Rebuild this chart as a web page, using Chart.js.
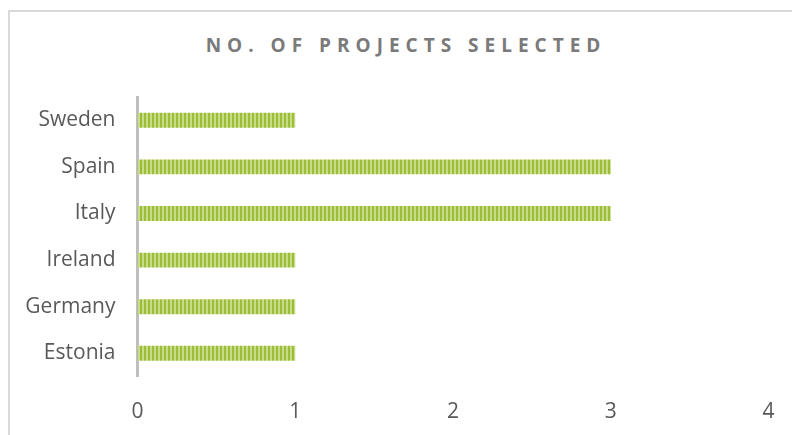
<!DOCTYPE html>
<html>
<head>
<meta charset="utf-8">
<script src="https://cdn.jsdelivr.net/npm/chart.js@4"></script>
<style>
  body { margin: 0; background: #fff; }
  #wrap { position: relative; width: 792px; height: 435px; overflow: hidden; }
  #frame { position: absolute; left: 8px; top: 10px; width: 820px; height: 460px;
           border: 2px solid #d9d9d9; box-sizing: border-box; }
  #title { position: absolute; left: 0; width: 812px; top: 32px; text-align: center;
           font: bold 19px "Open Sans", sans-serif; letter-spacing: 6px; color: #7a7a7a; }
  #chart { position: absolute; left: 0; top: 0; }
</style>
</head>
<body>
<div id="wrap">
  <div id="frame"></div>
  <div id="title">NO. OF PROJECTS SELECTED</div>
  <canvas id="chart" width="792" height="435"></canvas>
</div>
<script>
const countries = ['Sweden', 'Spain', 'Italy', 'Ireland', 'Germany', 'Estonia']
const projects = [1, 3, 3, 1, 1, 1]
const xTickLabels = ['0', '1', '2', '3', '4']

// striped fill like the office chart pattern
function stripes() {
    const c = document.createElement('canvas')
    c.width = 4
    c.height = 1
    const g = c.getContext('2d')
    g.fillStyle = '#9dbd37'
    g.fillRect(0, 0, 4, 1)
    g.fillStyle = '#c6dc8a'
    g.fillRect(2, 0, 2, 1)
    return g.createPattern(c, 'repeat')
}

const ctx = document.getElementById('chart')
new Chart(ctx, {
    type: 'bar',
    data: {
        labels: countries,
        datasets: [{
            label: 'No. of projects selected',
            data: projects,
            backgroundColor: stripes(),
            borderWidth: 0,
            barPercentage: 0.32,
            categoryPercentage: 1
        }]
    },
    options: {
        indexAxis: 'y',
        responsive: false,
        animation: false,
        layout: { padding: { top: 97, right: 23.4, left: 0, bottom: 0 } },
        plugins: { legend: { display: false }, tooltip: { enabled: false } },
        scales: {
            x: {
                min: 0,
                max: 4,
                ticks: {
                    stepSize: 1,
                    padding: 23,
                    color: '#595959',
                    font: { family: 'Open Sans', size: 21 },
                    callback: (v, i) => xTickLabels[i]
                },
                grid: { display: false, drawTicks: false },
                border: { display: false },
                afterFit: (scale) => {
                    scale.height = 58.4
                    // tick padding should not push the plot area in from the right
                    scale.paddingRight = 0
                    scale.paddingLeft = 0
                }
            },
            y: {
                ticks: {
                    padding: 22,
                    color: '#595959',
                    font: { family: 'Open Sans', size: 21 }
                },
                grid: { display: false, drawTicks: false },
                border: { display: true, color: '#bfbfbf', width: 3 },
                afterFit: (scale) => { scale.width = 137.5 }
            }
        }
    }
})
</script>
</body>
</html>
